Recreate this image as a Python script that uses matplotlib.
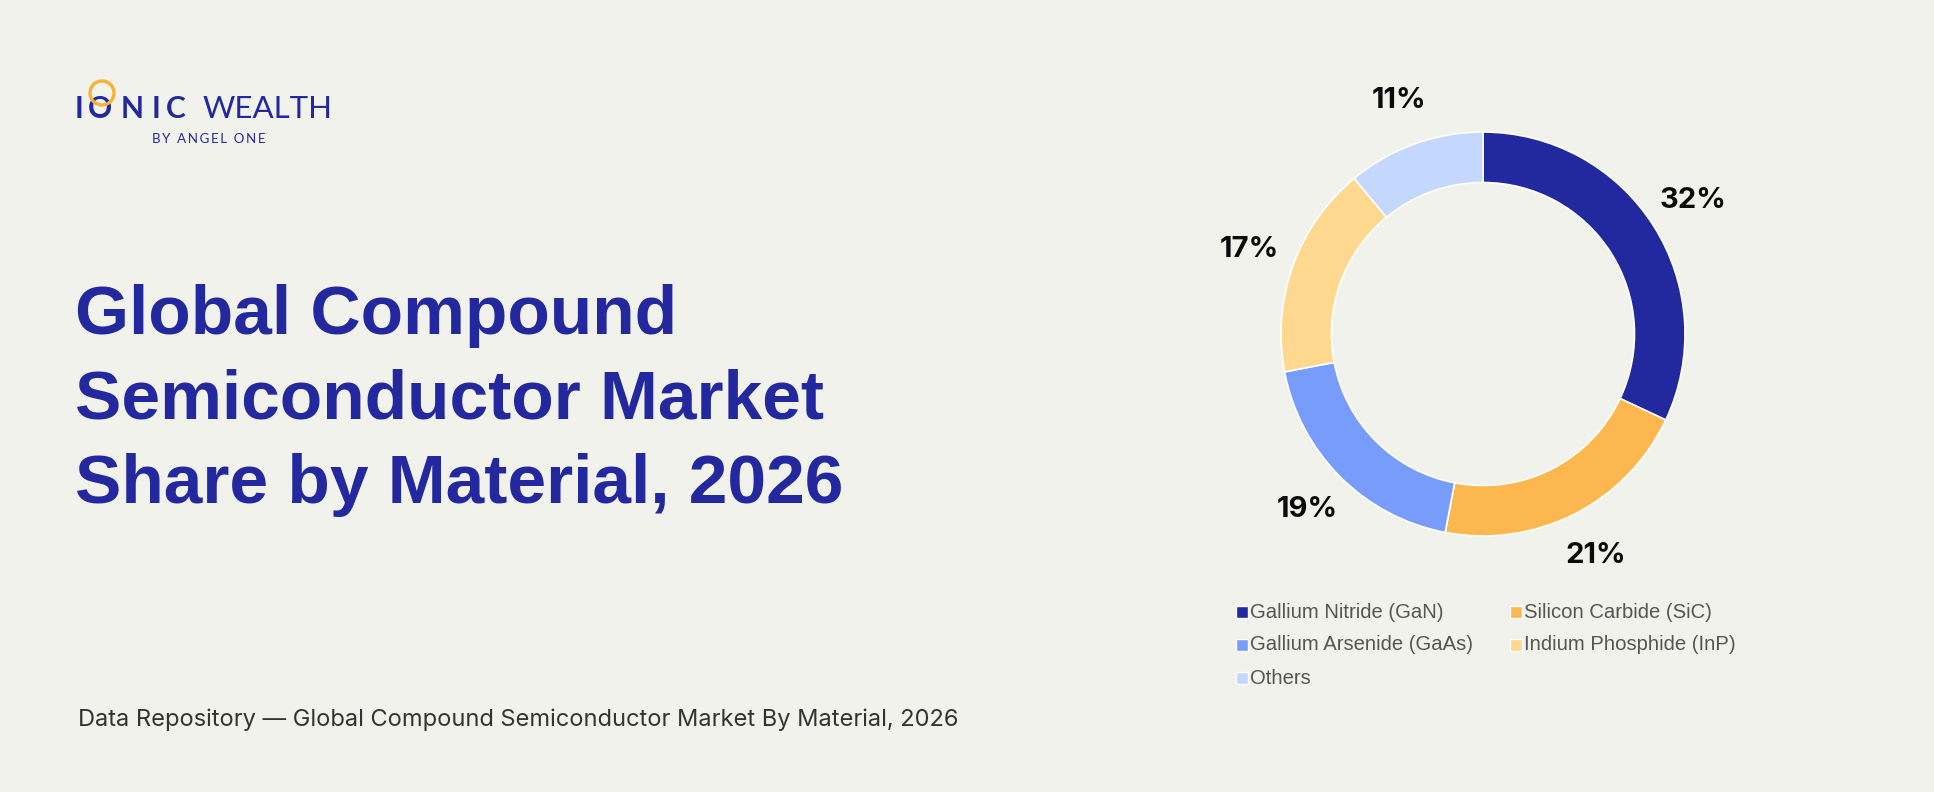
import matplotlib
matplotlib.use("Agg")
import matplotlib.pyplot as plt
from matplotlib.patches import Circle, Rectangle
import numpy as np

# ---- data ----
categories = ["Gallium Nitride (GaN)", "Silicon Carbide (SiC)", "Gallium Arsenide (GaAs)",
              "Indium Phosphide (InP)", "Others"]
shares = [32, 21, 19, 17, 11]
colors = ["#22289E", "#FDB74F", "#789CFB", "#FFD88F", "#C4D7FC"]
title_lines = ["Global Compound", "Semiconductor Market", "Share by Material, 2026"]
footer = "Data Repository \u2014 Global Compound Semiconductor Market By Material, 2026"

BG = "#F1F2EC"
NAVY = "#23289E"
W, H = 1934, 792
DPI = 100

fig = plt.figure(figsize=(W / DPI, H / DPI), dpi=DPI, facecolor=BG)

# full-figure overlay axes in pixel coordinates (y downward)
ov = fig.add_axes([0, 0, 1, 1])
ov.set_xlim(0, W)
ov.set_ylim(H, 0)
ov.axis("off")
ov.set_zorder(3)
ov.patch.set_alpha(0)

# ---- logo ----
logo_font = "Lato"
for ch, x in zip("IONIC", [79, 100, 132, 155.5, 176]):
    ov.text(x, 118, ch, ha="center", va="baseline", fontsize=21.5, fontweight="bold",
            color=NAVY, family=logo_font)
ov.add_patch(Circle((102, 93), 12, fill=False, edgecolor="#F9B233", linewidth=2.4, zorder=4))
ov.text(203, 118, "WEALTH", ha="left", va="baseline", fontsize=22.5,
        fontweight="normal", color=NAVY, family=logo_font)
tagline = "  ".join("\u2009".join(wd) for wd in "BY ANGEL ONE".split())
ov.text(209, 143, tagline, ha="center", va="baseline",
        fontsize=9.5, color=NAVY, family=[logo_font, "DejaVu Sans"])

# ---- title ----
for i, line in enumerate(title_lines):
    ov.text(75, 334 + i * 84.5, line, ha="left", va="baseline", fontsize=50,
            fontweight="bold", color=NAVY, family="Liberation Sans")

# ---- footer ----
ov.text(78, 726, footer, ha="left", va="baseline", fontsize=17, color="#333333",
        family="Inter")

# ---- donut ----
cx, cy, R = 1483, 334, 202
size = 600
k = size / 2 / R
ax = fig.add_axes([(cx - size / 2) / W, 1 - (cy + size / 2) / H, size / W, size / H])
wedges, _ = ax.pie(shares, colors=colors, startangle=90, counterclock=False, radius=1,
                   wedgeprops=dict(width=0.25, edgecolor="white", linewidth=1.2))
ax.set_xlim(-k, k)
ax.set_ylim(-k, k)
ax.set_aspect("equal")
ax.axis("off")
for w, v in zip(wedges, shares):
    mid = np.deg2rad((w.theta1 + w.theta2) / 2)
    r = 1.23
    ax.text(r * np.cos(mid), r * np.sin(mid), f"{v}%", ha="center", va="center",
            fontsize=21, fontweight="bold", color="#0A0A0A", family="Inter")

# ---- legend (row-major, 2 columns) ----
col_x = [1236, 1510]
row_y = [612, 645, 678]
for i, (lab, c) in enumerate(zip(categories, colors)):
    r_, c_ = divmod(i, 2)
    x, y = col_x[c_], row_y[r_]
    ov.add_patch(Rectangle((x, y - 6), 12, 12, facecolor=c, edgecolor="white", linewidth=1))
    ov.text(x + 14, y, lab, ha="left", va="center", fontsize=14.6, color="#555555",
            family="Liberation Sans")

fig.savefig("out.png", dpi=DPI, facecolor=BG)
